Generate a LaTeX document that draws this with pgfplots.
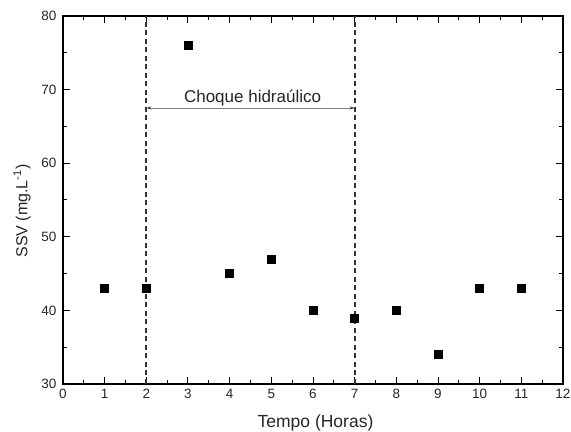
\documentclass[border=0pt]{standalone}
\usepackage{pgfplots}
\pgfplotsset{compat=1.18}
\usepackage{fontspec}
\setmainfont{Liberation Sans}
\usetikzlibrary{arrows.meta}

\begin{document}
\begin{tikzpicture}
\begin{axis}[
    scale only axis,
    width=500pt, height=368pt,
    xmin=0, xmax=12, ymin=30, ymax=80,
    xtick={0,1,...,12}, ytick={30,40,...,80},
    minor x tick num=1, minor y tick num=1,
    tick align=inside,
    major tick length=7pt, minor tick length=4pt,
    every tick/.style={black, line width=1pt},
    axis line style={line width=1.1pt},
    xticklabel pos=lower, yticklabel pos=left,
    /pgf/number format/assume math mode=true,
    tick label style={font=\fontsize{13.5}{15}\selectfont, color=black!85},
    xticklabel style={yshift=-2pt},
    yticklabel style={xshift=-3pt},
    xlabel={Tempo (Horas)}, ylabel={SSV (mg.L\textsuperscript{-1})},
    xlabel style={font=\fontsize{17.5}{20}\selectfont, color=black!85,
        at={(axis description cs:0.505,-0.106)}, anchor=center},
    ylabel style={font=\fontsize{16}{18}\selectfont, color=black!85,
        at={(axis description cs:-0.082,0.47)}, anchor=center},
]
\addplot[only marks, mark=square*, mark size=4pt, black] coordinates {
    (1,43) (2,43) (3,76) (4,45) (5,47) (6,40) (7,39) (8,40) (9,34) (10,43) (11,43)
};
\addplot[black!80, line width=1.8pt, dash pattern=on 5pt off 3.5pt] coordinates {(2,30) (2,80)};
\addplot[black!80, line width=1.8pt, dash pattern=on 5pt off 3.5pt] coordinates {(7,30) (7,80)};
\draw[gray, line width=0.7pt, {Stealth[length=5pt,width=3pt,black!80]}-{Stealth[length=5pt,width=3pt,black!80]}]
    (axis cs:2,67.5) -- (axis cs:7,67.5);
\node[font=\fontsize{17}{19}\selectfont, color=black!85, anchor=center] at (axis cs:4.55,68.8) {Choque hidraúlico};
\end{axis}
\pgfresetboundingbox
\path (current axis.south west) ++(-63pt,-48pt) rectangle ([shift={(8pt,16pt)}]current axis.north east);
\end{tikzpicture}
\end{document}
